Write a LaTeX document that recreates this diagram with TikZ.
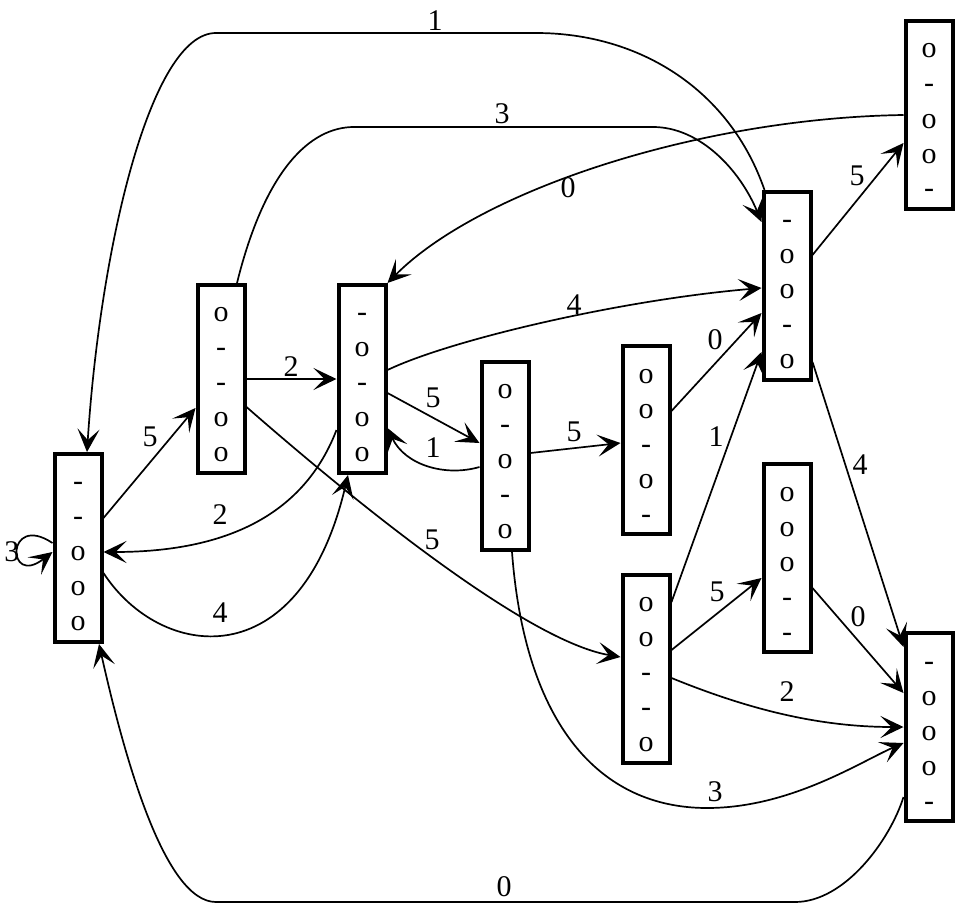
\documentclass[tikz,border=0pt]{standalone}
\usepackage{fontspec}
\setmainfont{Liberation Serif}
\usetikzlibrary{arrows.meta,calc}
\newcommand{\cells}[5]{\rule{0pt}{26pt}#1\\#2\\#3\\#4\\#5}
\tikzset{
	state/.style={draw, line width=4pt, minimum width=47pt, minimum height=188pt, inner sep=0pt, align=center, font=\fontsize{30}{35}\selectfont},
	trans/.style={line width=1.7pt, -{Stealth[length=23pt,width=22pt,inset=11pt]}},
	lbl/.style={inner sep=0pt, font=\fontsize{30}{35}\selectfont}
}

\begin{document}
\begin{tikzpicture}[x=1pt,y=-1pt]
		%%%%% START %%%%%
		\useasboundingbox (0,0) rectangle (966,912);
		
		\node[state] (ddooo) at (78,548) {\cells{-}{-}{o}{o}{o}};
		\node[state] (oddoo) at (221,379) {\cells{o}{-}{-}{o}{o}};
		\node[state] (dodoo) at (362,379) {\cells{-}{o}{-}{o}{o}};
		\node[state] (ododo) at (505,456) {\cells{o}{-}{o}{-}{o}};
		\node[state] (oodod) at (646,440) {\cells{o}{o}{-}{o}{-}};
		\node[state] (doodo) at (787,286) {\cells{-}{o}{o}{-}{o}};
		\node[state] (odood) at (929,115) {\cells{o}{-}{o}{o}{-}};
		\node[state] (ooodd) at (787,558) {\cells{o}{o}{o}{-}{-}};
		\node[state] (ooddo) at (646,669) {\cells{o}{o}{-}{-}{o}};
		\node[state] (doood) at (929,727) {\cells{-}{o}{o}{o}{-}};
		
		\draw[trans] ($(ddooo.west)+(0,-5)$) .. controls (6,512) and (6,588) .. ($(ddooo.west)+(0,4)$) node[lbl] at (12,552) {3};
		\draw[trans] ($(ddooo.east)+(0,-30)$) -- ($(oddoo.west)+(0,29)$) node[lbl] at (150,437) {5};
		\draw[trans] ($(ddooo.east)+(0,25)$) .. controls (160,660) and (300,680) .. ($(dodoo.south)+(-14,0)$) node[lbl] at (220,613) {4};
		
		\draw[trans] (oddoo.east) -- (dodoo.west) node[lbl] at (291,367) {2};
		\draw[trans] ($(oddoo.east)+(0,28)$) .. controls (330,480) and (520,640) .. ($(ooddo.west)+(0,-12)$) node[lbl] at (432,540) {5};
		\draw[trans] ($(oddoo.north)+(16,0)$) .. controls (265,170) and (310,127) .. (354,127) -- (653,127) .. controls (700,127) and (740,170) .. ($(doodo.west)+(0,-64)$) node[lbl] at (502,114) {3};
		
		\draw[trans] ($(dodoo.west)+(0,51)$) .. controls (300,525) and (210,552) .. ($(ddooo.east)+(0,4)$) node[lbl] at (220,515) {2};
		\draw[trans] ($(dodoo.east)+(0,-9)$) .. controls (450,340) and (620,300) .. ($(doodo.west)+(0,2)$) node[lbl] at (574,305) {4};
		\draw[trans] ($(dodoo.east)+(0,14)$) -- ($(ododo.west)+(0,-13)$) node[lbl] at (433,398) {5};
		
		\draw[trans] ($(ododo.west)+(0,11)$) .. controls (445,477) and (405,465) .. ($(dodoo.east)+(0,49)$) node[lbl] at (433,448) {1};
		\draw[trans] ($(ododo.east)+(0,-3)$) -- ($(oodod.west)+(0,3)$) node[lbl] at (574,432) {5};
		\draw[trans] ($(ododo.south)+(7,0)$) .. controls (525,725) and (600,808) .. (707,808) .. controls (790,808) and (860,762) .. ($(doood.west)+(0,16)$) node[lbl] at (715,792) {3};
		
		\draw[trans] ($(oodod.east)+(0,-29)$) -- ($(doodo.west)+(0,27)$) node[lbl] at (715,340) {0};
		
		\draw[trans] ($(doodo.north west)+(3,0)$) .. controls (730,90) and (640,33) .. (536,33) -- (216,33) .. controls (150,33) and (100,250) .. ($(ddooo.north)+(9,0)$) node[lbl] at (435,21) {1};
		\draw[trans] ($(doodo.east)+(0,-31)$) -- ($(odood.west)+(0,28)$) node[lbl] at (857,176) {5};
		\draw[trans] ($(doodo.east)+(0,76)$) -- ($(doood.west)+(0,-80)$) node[lbl] at (860,465) {4};
		
		\draw[trans] (odood.west) .. controls (700,118) and (480,190) .. (dodoo.north east) node[lbl] at (568,188) {0};
		
		\draw[trans] ($(ooddo.east)+(0,-67)$) -- ($(doodo.west)+(0,66)$) node[lbl] at (716,437) {1};
		\draw[trans] ($(ooddo.east)+(0,-19)$) -- ($(ooodd.west)+(0,20)$) node[lbl] at (717,592) {5};
		\draw[trans] ($(ooddo.east)+(0,9)$) .. controls (750,710) and (820,727) .. (doood.west) node[lbl] at (787,692) {2};
		
		\draw[trans] ($(ooodd.east)+(0,30)$) -- ($(doood.west)+(0,-34)$) node[lbl] at (858,617) {0};
		
		\draw[trans] ($(doood.west)+(0,70)$) .. controls (890,840) and (845,902) .. (795,902) -- (216,902) .. controls (165,902) and (125,760) .. ($(ddooo.south)+(21,0)$) node[lbl] at (504,887) {0};
		
		%%%%% END %%%%%
\end{tikzpicture}
\end{document}
